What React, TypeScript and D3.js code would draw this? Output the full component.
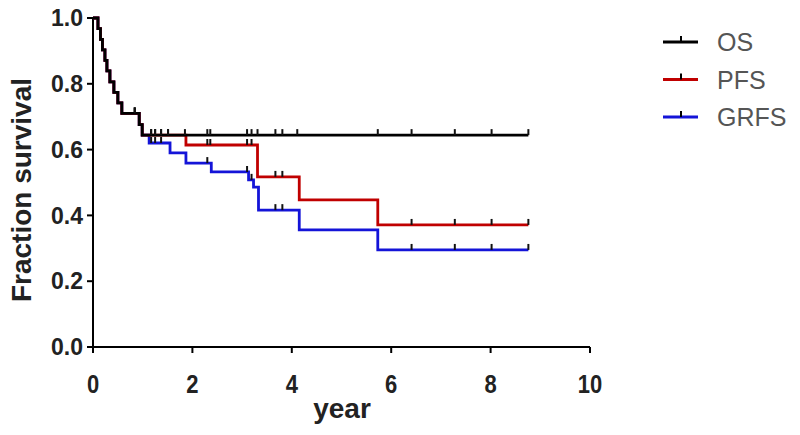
import React from 'react';
import * as d3 from 'd3';

// Kaplan-Meier steps: [time in years, survival after the drop]
const osSteps: [number, number][] = [
  [0.1, 0.968], [0.15, 0.935], [0.19, 0.903], [0.24, 0.871], [0.28, 0.839],
  [0.34, 0.806], [0.42, 0.774], [0.5, 0.742], [0.58, 0.71], [0.93, 0.676], [0.99, 0.644],
];
const pfsSteps: [number, number][] = [
  ...osSteps,
  [1.87, 0.614], [3.31, 0.517], [4.15, 0.447], [5.73, 0.371],
];
const grfsSteps: [number, number][] = [
  ...osSteps,
  [1.13, 0.62], [1.55, 0.59], [1.87, 0.559], [2.38, 0.532], [3.13, 0.508],
  [3.23, 0.486], [3.33, 0.416], [4.15, 0.356], [5.73, 0.295],
];

// censored observations
const osCensor = [0.84, 1.17, 1.25, 1.37, 1.51, 1.85, 2.3, 2.36, 3.1, 3.19, 3.31, 3.67, 3.81, 4.11, 5.73, 6.41, 7.28, 8.02, 8.76];
const pfsCensor = [0.84, 1.17, 1.25, 1.37, 1.51, 2.3, 2.36, 3.1, 3.19, 3.67, 3.81, 6.41, 7.28, 8.02, 8.76];
const grfsCensor = [0.84, 1.17, 1.25, 1.37, 2.3, 3.1, 3.19, 3.67, 3.81, 6.41, 7.28, 8.02, 8.76];

const endTime = 8.76;

const series = [
  { name: 'GRFS', steps: grfsSteps, censor: grfsCensor, color: '#1414d8' },
  { name: 'PFS', steps: pfsSteps, censor: pfsCensor, color: '#c00000' },
  { name: 'OS', steps: osSteps, censor: osCensor, color: '#000000' },
];
const legendOrder = ['OS', 'PFS', 'GRFS'];

const width = 800;
const height = 435;

const x = d3.scaleLinear().domain([0, 10]).range([93, 590]);
const y = d3.scaleLinear().domain([0, 1]).range([347, 18]);

const font = "'Liberation Sans', Arial, sans-serif";

const survivalAt = (steps: [number, number][], t: number) => {
  let s = 1;
  const sorted = [...steps].sort((a, b) => a[0] - b[0]);
  for (const [st, sv] of sorted) if (st <= t) s = sv;
  return s;
};

const kmLine = (steps: [number, number][]) => {
  const sorted = [...steps].sort((a, b) => a[0] - b[0]);
  const pts: [number, number][] = [[0, 1], ...sorted, [endTime, sorted[sorted.length - 1][1]]];
  return d3
    .line<[number, number]>()
    .x(d => x(d[0]))
    .y(d => y(d[1]))
    .curve(d3.curveStepAfter)(pts) as string;
};

export default function App() {
  const xTicks = x.ticks(5);
  const yTicks = y.ticks(5);
  const fmt = d3.format('.1f');

  return (
    <svg width={width} height={height} style={{ position: 'absolute', left: 0, top: 0 }}>
      <rect width={width} height={height} fill="#fff" />

      {/* axes */}
      <line x1={x(0)} x2={x(0)} y1={y(1)} y2={y(0)} stroke="#000" strokeWidth={2} />
      <line x1={x(0)} x2={x(10)} y1={y(0)} y2={y(0)} stroke="#000" strokeWidth={2} />
      {yTicks.map(t => (
        <g key={'y' + t}>
          <line x1={x(0) - 6} x2={x(0)} y1={y(t)} y2={y(t)} stroke="#000" strokeWidth={2} />
          <text x={x(0) - 10} y={y(t)} dy="0.36em" textAnchor="end"
            fontFamily={font} fontSize={23} fontWeight="bold" fill="#222">{fmt(t)}</text>
        </g>
      ))}
      {xTicks.map(t => (
        <g key={'x' + t}>
          <line x1={x(t)} x2={x(t)} y1={y(0)} y2={y(0) + 6} stroke="#000" strokeWidth={2} />
          <text transform={`translate(${x(t)},393) scale(1,1.15)`} textAnchor="middle"
            fontFamily={font} fontSize={22} fontWeight="bold" fill="#222">{t}</text>
        </g>
      ))}

      <text x={342} y={418} textAnchor="middle" fontFamily={font} fontSize={28} fontWeight="bold" fill="#222">year</text>
      <text transform={`translate(31,${190}) rotate(-90)`} textAnchor="middle"
        fontFamily={font} fontSize={28} fontWeight="bold" fill="#222">Fraction survival</text>

      {/* curves */}
      {series.map(s => (
        <g key={s.name}>
          <path d={kmLine(s.steps)} fill="none" stroke={s.color} strokeWidth={2.8} />
          {s.censor.map((c, i) => {
            const sv = survivalAt(s.steps, c);
            return (
              <line key={i} x1={x(c)} x2={x(c)} y1={y(sv)} y2={y(sv) - 6} stroke="#111" strokeWidth={2} />
            );
          })}
        </g>
      ))}

      {/* legend */}
      {legendOrder.map((name, i) => {
        const s = series.find(d => d.name === name)!;
        const ly = 42 + i * 37.5;
        return (
          <g key={name}>
            <line x1={663} x2={698} y1={ly} y2={ly} stroke={s.color} strokeWidth={2.8} />
            <line x1={681} x2={681} y1={ly} y2={ly - 6} stroke="#000" strokeWidth={2} />
            <text x={717} y={ly} dy="0.36em" fontFamily={font} fontSize={25} fill="#555">{name}</text>
          </g>
        );
      })}
    </svg>
  );
}
